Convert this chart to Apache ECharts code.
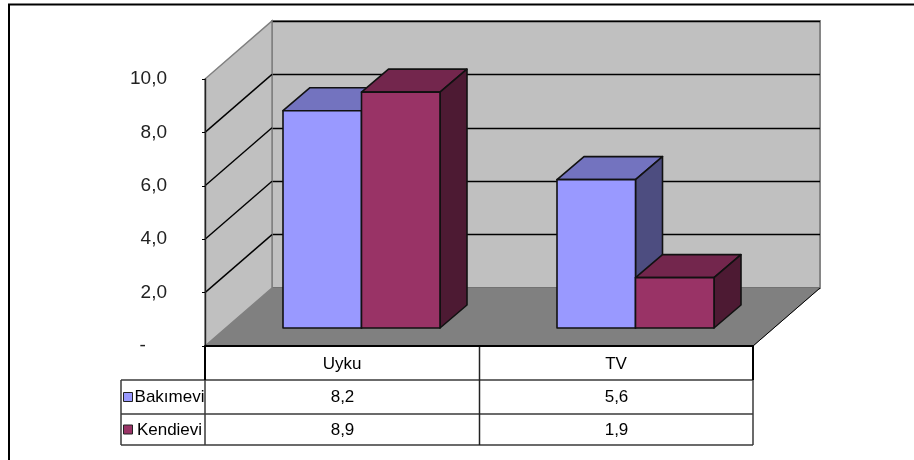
<!DOCTYPE html>
<html><head><meta charset="utf-8">
<style>html,body{margin:0;padding:0;background:#fff}#c{width:914px;height:460px}</style>
<script src="https://cdn.jsdelivr.net/npm/echarts@6/dist/echarts.min.js"></script>
</head><body><div id="c"></div>
<script>
const categories = ['Uyku', 'TV'];
const bakimevi = [8.2, 5.6];
const kendievi = [8.9, 1.9];
const yTicks = [0, 2, 4, 6, 8, 10];
const seriesNames = ['Bakımevi', 'Kendievi'];
const seriesFronts = ['#9999FF', '#993366'];

const FONT = '"Liberation Sans", Arial, sans-serif';
const WALL = {dx: 67, dy: -58};
const BAR = {dx: 27, dy: -23, width: 78.5};
const ROWS = [380, 414, 445];
const TABLE_LEFT = 121;
const comma = v => v.toFixed(1).replace('.', ',');

const chart = echarts.init(document.getElementById('c'), null, {renderer: 'canvas'});

function sceneItem(params, api) {
  const cs = params.coordSys;
  const L = cs.x, R = cs.x + cs.width, B = cs.y + cs.height, T = cs.y;
  const kids = [];
  kids.push({type: 'polygon', shape: {points: [[L, B], [R, B], [R + WALL.dx, B + WALL.dy], [L + WALL.dx, B + WALL.dy]]},
    style: {fill: '#808080', stroke: '#808080', lineWidth: 1}});
  kids.push({type: 'line', shape: {x1: R, y1: B, x2: R + WALL.dx, y2: B + WALL.dy}, style: {stroke: '#000', lineWidth: 1}});
  kids.push({type: 'polygon', shape: {points: [[L, B], [L, T], [L + WALL.dx, T + WALL.dy], [L + WALL.dx, B + WALL.dy]]},
    style: {fill: '#c0c0c0', stroke: '#808080', lineWidth: 1.5}});
  yTicks.slice(1, -1).forEach(v => {
    const y = api.coord([0, v])[1];
    kids.push({type: 'line', shape: {x1: L, y1: y, x2: L + WALL.dx, y2: y + WALL.dy}, style: {stroke: '#000', lineWidth: 1.4}});
  });
  return {type: 'group', children: kids};
}

function barItem(side, colors) {
  return function (params, api) {
    const cat = api.value(0), val = api.value(1);
    const base = api.coord([cat, 0]), top = api.coord([cat, val]);
    const x0 = side === 0 ? base[0] - BAR.width : base[0];
    const x1 = x0 + BAR.width;
    const y0 = top[1], y1 = base[1];
    const d = {stroke: '#111', lineWidth: 1.6, lineJoin: 'round'};
    return {type: 'group', children: [
      {type: 'polygon', shape: {points: [[x0, y0], [x1, y0], [x1 + BAR.dx, y0 + BAR.dy], [x0 + BAR.dx, y0 + BAR.dy]]},
        style: Object.assign({fill: colors.top}, d)},
      {type: 'polygon', shape: {points: [[x1, y0], [x1 + BAR.dx, y0 + BAR.dy], [x1 + BAR.dx, y1 + BAR.dy], [x1, y1]]},
        style: Object.assign({fill: colors.side}, d)},
      {type: 'rect', shape: {x: x0, y: y0, width: BAR.width, height: y1 - y0},
        style: Object.assign({fill: colors.front}, d)}
    ]};
  };
}

function tableItem(params, api) {
  const cs = params.coordSys;
  const L = cs.x, R = cs.x + cs.width, B = cs.y + cs.height;
  const i = params.dataIndex;
  const kids = [];
  const stroke = {stroke: '#3a3a3a', lineWidth: 1.5};
  const line = (x1, y1, x2, y2, s) => kids.push({type: 'line', shape: {x1, y1, x2, y2}, style: s || stroke});
  const cx = api.coord([i, 0])[0] + 0.5;
  const txt = (text, x, y) => kids.push({type: 'text', style: {text, x, y, align: 'center', verticalAlign: 'middle',
      fontSize: 17, fontFamily: FONT, fill: '#000'}});
  [bakimevi, kendievi].forEach((vals, r) => {
    txt(comma(vals[i]), cx, (ROWS[r] + ROWS[r + 1]) / 2 + 0.5);
  });
  if (i === 0) {
    const mid = (L + R) / 2 + 0.5;
    ROWS.forEach(y => line(TABLE_LEFT, y, R, y));
    line(TABLE_LEFT, ROWS[0], TABLE_LEFT, ROWS[2]);
    line(L, ROWS[0], L, ROWS[2]);
    line(R, ROWS[0], R, ROWS[2]);
    const thick = {stroke: '#000', lineWidth: 2};
    line(L, B, L, ROWS[0], thick);
    line(R, B, R, ROWS[0], thick);
    line(mid, B, mid, ROWS[2], {stroke: '#222', lineWidth: 1.5});
    seriesNames.forEach((name, r) => {
      const ym = (ROWS[r] + ROWS[r + 1]) / 2;
      kids.push({type: 'rect', shape: {x: TABLE_LEFT + 2.5, y: ym - 4.5, width: 9, height: 9},
        style: {fill: seriesFronts[r], stroke: '#222', lineWidth: 1}});
      txt(name, (TABLE_LEFT + 12 + L) / 2 + 0.5, ym + 0.5);
    });
  }
  return {type: 'group', children: kids};
}

const option = {
  animation: false,
  backgroundColor: '#fff',
  textStyle: {fontFamily: FONT},
  graphic: [{type: 'polyline', silent: true, shape: {points: [[9, 460], [9, 4.5], [914, 4.5]]},
    style: {stroke: '#000', lineWidth: 2, fill: null}}],
  grid: [
    {left: 205, top: 79, width: 548, height: 267},
    {left: 272, top: 21, width: 548, height: 267, show: true, backgroundColor: '#c0c0c0', borderColor: '#868686', borderWidth: 2},
    {left: 224.5, top: 63, width: 548, height: 265}
  ],
  xAxis: [
    {type: 'category', gridIndex: 0, data: categories, z: 10,
      axisLine: {lineStyle: {color: '#000', width: 2}}, axisTick: {show: false},
      axisLabel: {fontSize: 17, color: '#000', margin: 10, fontFamily: FONT}},
    {type: 'category', gridIndex: 1, data: categories, show: false},
    {type: 'category', gridIndex: 2, data: categories, show: false}
  ],
  yAxis: [
    {type: 'value', gridIndex: 0, min: 0, max: 10, interval: 2, z: 10, splitLine: {show: false},
      axisLine: {show: true, lineStyle: {color: '#222', width: 1.4}},
      axisTick: {show: true, length: 3, lineStyle: {color: '#000', width: 1}},
      axisLabel: {fontSize: 19, color: '#222', margin: 38, fontFamily: FONT, padding: [2, 0, 0, 0],
        formatter: v => v === 0 ? '-    ' : comma(v)}},
    {type: 'value', gridIndex: 1, min: 0, max: 10, interval: 2,
      axisLine: {show: false}, axisTick: {show: false}, axisLabel: {show: false},
      splitLine: {show: true, lineStyle: {color: '#000', width: 1.4}}},
    {type: 'value', gridIndex: 2, min: 0, max: 10, interval: 2, show: false, splitLine: {show: false}}
  ],
  series: [
    {type: 'custom', name: 'scene', z: 1, silent: true, xAxisIndex: 0, yAxisIndex: 0, data: [[0, 0]], renderItem: sceneItem, clip: false},
    {type: 'custom', name: 'table', z: 2, silent: true, xAxisIndex: 0, yAxisIndex: 0, data: categories.map((c, i) => [i, 0]), renderItem: tableItem, clip: false},
    {type: 'custom', name: seriesNames[0], z: 3, xAxisIndex: 2, yAxisIndex: 2, itemStyle: {color: seriesFronts[0]},
      data: bakimevi.map((v, i) => [i, v]), renderItem: barItem(0, {front: seriesFronts[0], top: '#7373BF', side: '#4D4D80'}), clip: false},
    {type: 'custom', name: seriesNames[1], z: 4, xAxisIndex: 2, yAxisIndex: 2, itemStyle: {color: seriesFronts[1]},
      data: kendievi.map((v, i) => [i, v]), renderItem: barItem(1, {front: seriesFronts[1], top: '#73264D', side: '#4D1A33'}), clip: false}
  ]
};
chart.setOption(option);
</script></body></html>
